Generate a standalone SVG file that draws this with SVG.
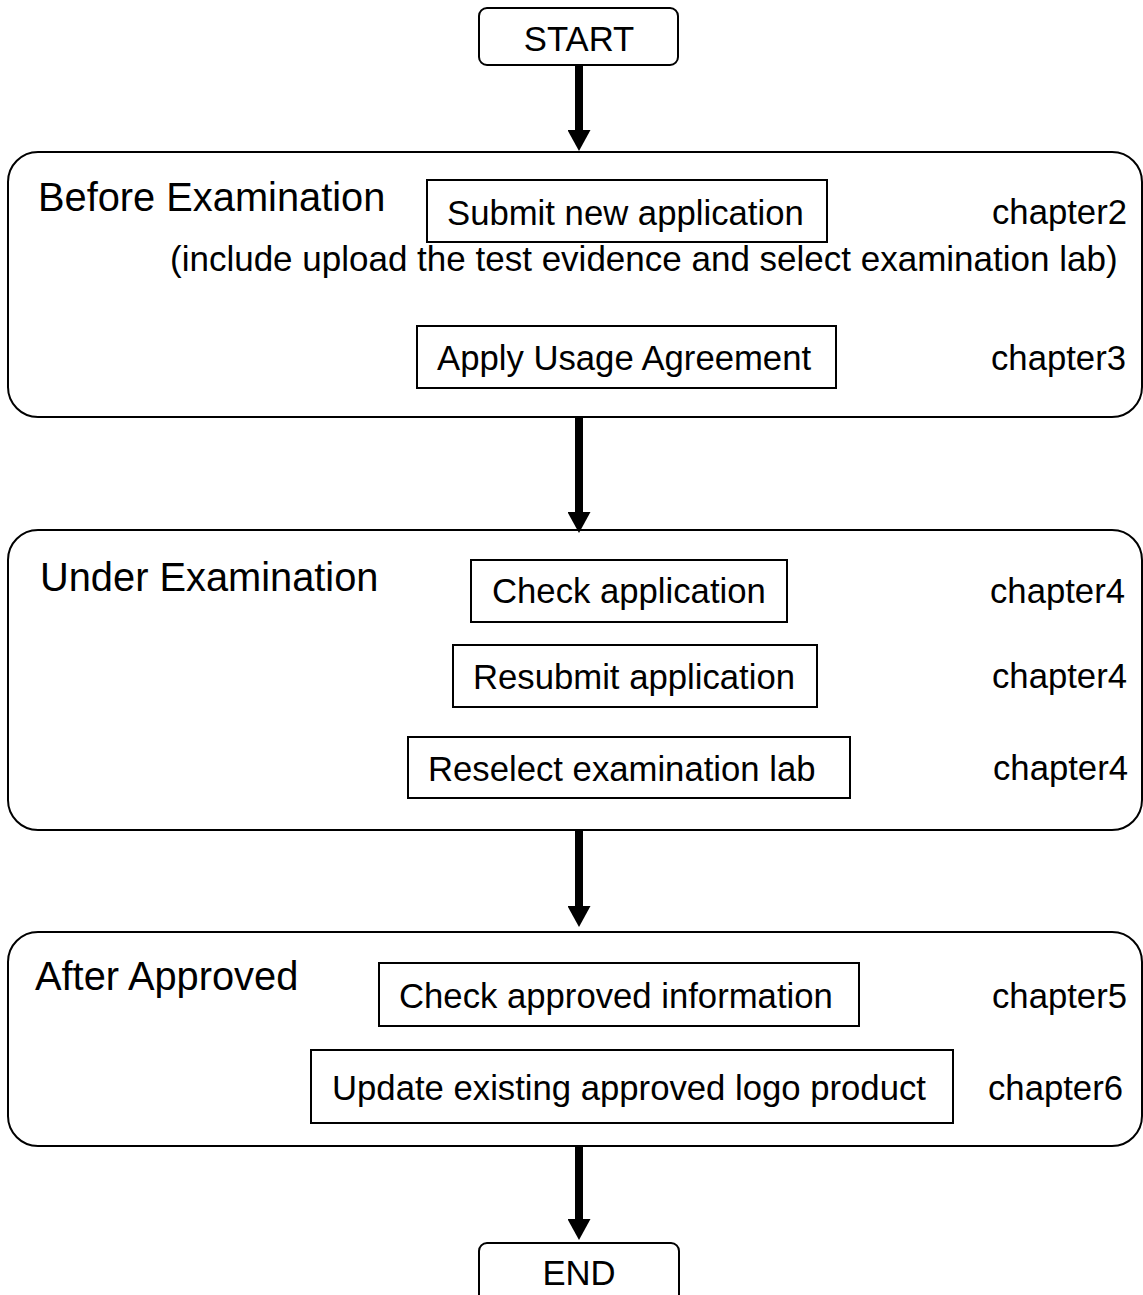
<svg xmlns="http://www.w3.org/2000/svg" width="1143" height="1295" viewBox="0 0 1143 1295">
<style>
  .phase { fill: #fff; stroke: #000; stroke-width: 2; }
  .step { fill: #fff; stroke: #000; stroke-width: 2; }
  .term { fill: #fff; stroke: #000; stroke-width: 2; }
  .t { font-family: "Liberation Sans", Arial, sans-serif; font-size: 34.7px; fill: #000; }
  .note { font-size: 35px; }
  .title { font-family: "Liberation Sans", Arial, sans-serif; font-size: 39.8px; fill: #000; }
  .mid { text-anchor: middle; }
  .conn { stroke: #000; stroke-width: 8; fill: none; marker-end: url(#ah); }
</style>
<defs>
  <marker id="ah" markerUnits="userSpaceOnUse" markerWidth="22" markerHeight="23" refX="7" refY="11.5" orient="auto">
    <path d="M0,0 L21,11.5 L0,23 z" fill="#000"/>
  </marker>
</defs>
<rect width="1143" height="1295" fill="#fff"/>

<g id="start">
  <rect class="term" x="479" y="8" width="199" height="57" rx="8"/>
  <text class="t mid" x="579" y="51">START</text>
</g>

<g id="before-examination">
  <rect class="phase" x="8" y="152" width="1134" height="265" rx="30"/>
  <text class="title" x="38" y="211">Before Examination</text>
  <text class="t note" x="170" y="271">(include upload the test evidence and select examination lab)</text>
</g>
<g id="submit-new-application">
  <rect class="step" x="427" y="180" width="400" height="62"/>
  <text class="t" x="447" y="225">Submit new application</text>
  <text class="t" x="992" y="224">chapter2</text>
</g>
<g id="apply-usage-agreement">
  <rect class="step" x="417" y="326" width="419" height="62"/>
  <text class="t" x="437" y="370">Apply Usage Agreement</text>
  <text class="t" x="991" y="370">chapter3</text>
</g>

<g id="under-examination">
  <rect class="phase" x="8" y="530" width="1134" height="300" rx="30"/>
  <text class="title" x="40" y="591">Under Examination</text>
</g>
<g id="check-application">
  <rect class="step" x="471" y="560" width="316" height="62"/>
  <text class="t" x="492" y="603">Check application</text>
  <text class="t" x="990" y="603">chapter4</text>
</g>
<g id="resubmit-application">
  <rect class="step" x="453" y="645" width="364" height="62"/>
  <text class="t" x="473" y="689">Resubmit application</text>
  <text class="t" x="992" y="688">chapter4</text>
</g>
<g id="reselect-examination-lab">
  <rect class="step" x="408" y="737" width="442" height="61"/>
  <text class="t" x="428" y="781">Reselect examination lab</text>
  <text class="t" x="993" y="780">chapter4</text>
</g>

<g id="after-approved">
  <rect class="phase" x="8" y="932" width="1134" height="214" rx="30"/>
  <text class="title" x="35" y="990">After Approved</text>
</g>
<g id="check-approved-information">
  <rect class="step" x="379" y="963" width="480" height="63"/>
  <text class="t" x="399" y="1008">Check approved information</text>
  <text class="t" x="992" y="1008">chapter5</text>
</g>
<g id="update-existing-approved-logo-product">
  <rect class="step" x="311" y="1050" width="642" height="73"/>
  <text class="t" x="332" y="1100">Update existing approved logo product</text>
  <text class="t" x="988" y="1100">chapter6</text>
</g>

<g id="end">
  <rect class="term" x="479" y="1243" width="200" height="70" rx="8"/>
  <text class="t mid" x="579" y="1285">END</text>
</g>

<g id="connectors">
  <line class="conn" x1="579" y1="65" x2="579" y2="137"/>
  <line class="conn" x1="579" y1="417" x2="579" y2="519"/>
  <line class="conn" x1="579" y1="830" x2="579" y2="913"/>
  <line class="conn" x1="579" y1="1146" x2="579" y2="1226"/>
</g>
</svg>
